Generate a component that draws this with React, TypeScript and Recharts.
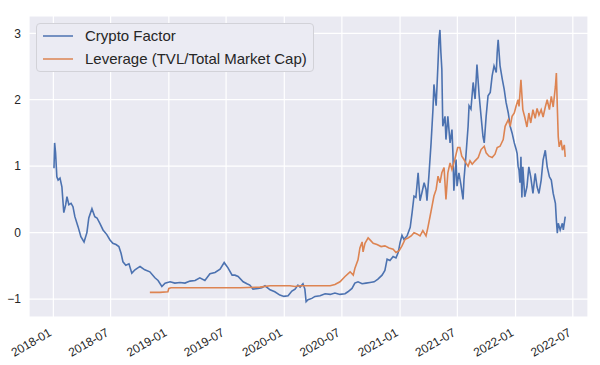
import React from 'react';
import { LineChart, Line, XAxis, YAxis, CartesianGrid } from 'recharts';

const cryptoDates = [
  '2018-01-03','2018-01-05','2018-01-08','2018-01-12','2018-01-16','2018-01-22','2018-01-28','2018-01-31',
  '2018-02-03','2018-02-09','2018-02-13','2018-02-19','2018-02-26','2018-03-04','2018-03-10','2018-03-20',
  '2018-03-29','2018-04-08','2018-04-17','2018-04-23','2018-05-03','2018-05-12','2018-05-19','2018-05-28',
  '2018-06-07','2018-06-19','2018-06-29','2018-07-08','2018-07-18','2018-07-27','2018-08-03','2018-08-09',
  '2018-08-18','2018-08-28','2018-09-06','2018-09-16','2018-09-25','2018-10-02','2018-10-17','2018-11-02',
  '2018-11-18','2018-11-28','2018-12-10','2018-12-20','2019-01-05','2019-01-20','2019-02-05','2019-02-21',
  '2019-03-09','2019-03-25','2019-04-09','2019-04-25','2019-05-11','2019-05-27','2019-06-12','2019-06-25',
  '2019-07-01','2019-07-07','2019-07-20','2019-07-29','2019-08-08','2019-08-24','2019-09-05','2019-09-14',
  '2019-09-24','2019-10-10','2019-10-22','2019-11-01','2019-11-17','2019-12-02','2019-12-18','2019-12-31',
  '2020-01-13','2020-01-25','2020-02-04','2020-02-13','2020-02-20','2020-02-29','2020-03-06','2020-03-10',
  '2020-03-16','2020-03-28','2020-04-07','2020-04-23','2020-05-09','2020-05-25','2020-06-09','2020-06-25',
  '2020-07-11','2020-07-20','2020-08-02','2020-08-11','2020-08-21','2020-09-03','2020-09-15','2020-09-28',
  '2020-10-11','2020-10-23','2020-11-05','2020-11-14','2020-11-21','2020-11-30','2020-12-10','2020-12-19',
  '2020-12-26','2021-01-01','2021-01-07','2021-01-13','2021-01-23','2021-02-02','2021-02-08','2021-02-14',
  '2021-02-20','2021-02-27','2021-03-05','2021-03-11','2021-03-18','2021-03-24','2021-03-27','2021-04-02',
  '2021-04-09','2021-04-15','2021-04-18','2021-04-25','2021-05-01','2021-05-04','2021-05-07','2021-05-10',
  '2021-05-13','2021-05-16','2021-05-23','2021-05-26','2021-06-01','2021-06-08','2021-06-14','2021-06-17',
  '2021-06-20','2021-06-27','2021-06-30','2021-07-06','2021-07-12','2021-07-19','2021-07-22','2021-07-28',
  '2021-08-04','2021-08-07','2021-08-13','2021-08-20','2021-08-26','2021-08-29','2021-09-01','2021-09-08',
  '2021-09-14','2021-09-20','2021-09-24','2021-09-30','2021-10-06','2021-10-13','2021-10-19','2021-10-25',
  '2021-11-01','2021-11-04','2021-11-07','2021-11-13','2021-11-20','2021-11-26','2021-12-02','2021-12-09',
  '2021-12-15','2021-12-21','2021-12-28','2022-01-03','2022-01-06','2022-01-09','2022-01-12','2022-01-15',
  '2022-01-18','2022-01-21','2022-01-24','2022-01-30','2022-02-06','2022-02-12','2022-02-18','2022-02-25',
  '2022-03-04','2022-03-10','2022-03-16','2022-03-23','2022-03-29','2022-04-05','2022-04-11','2022-04-18',
  '2022-04-24','2022-04-30','2022-05-07','2022-05-10','2022-05-13','2022-05-16','2022-05-22','2022-05-29',
  '2022-06-01','2022-06-07',
];
const cryptoValues = [
  0.97, 1.35, 1.2, 0.84, 0.79, 0.82, 0.69, 0.49,
  0.3, 0.42, 0.54, 0.42, 0.44, 0.39, 0.24, 0.09,
  -0.06, -0.14, 0.0, 0.22, 0.36, 0.24, 0.22, 0.14,
  0.04, -0.03, -0.11, -0.16, -0.18, -0.21, -0.31, -0.44,
  -0.49, -0.47, -0.61, -0.56, -0.53, -0.51, -0.56, -0.59,
  -0.68, -0.72, -0.81, -0.76, -0.74, -0.76, -0.75, -0.76,
  -0.73, -0.72, -0.68, -0.72, -0.62, -0.6, -0.55, -0.45,
  -0.49, -0.53, -0.64, -0.64, -0.66, -0.74, -0.77, -0.79,
  -0.85, -0.84, -0.83, -0.8, -0.86, -0.89, -0.94, -0.96,
  -0.95, -0.88, -0.85, -0.79, -0.82, -0.77, -0.85, -1.04,
  -1.01, -0.99, -0.96, -0.95, -0.92, -0.93, -0.91, -0.93,
  -0.92, -0.89, -0.84, -0.76, -0.74, -0.77, -0.76, -0.75,
  -0.74, -0.7, -0.64, -0.57, -0.4, -0.42, -0.36, -0.38,
  -0.3, -0.15, -0.04, -0.1, -0.05, 0.08, 0.3, 0.55,
  0.53, 0.9, 0.48, 0.6, 0.75, 0.65, 0.48, 0.85,
  1.35, 1.86, 2.23, 1.91, 2.56, 2.91, 3.05, 2.71,
  2.46, 1.6, 1.75, 1.4, 1.75, 1.35, 1.55, 1.2,
  0.63, 1.1, 0.7, 0.9, 0.73, 0.5, 0.8, 1.15,
  1.6, 1.91, 1.86, 2.26, 2.01, 2.26, 2.53, 2.06,
  1.75, 1.45, 1.35, 1.75, 2.06, 2.11, 2.36, 2.51,
  2.41, 2.71, 2.9, 2.51, 2.31, 2.16, 1.96, 1.8,
  1.6, 1.5, 1.35, 1.25, 1.19, 1.0, 0.94, 0.75,
  1.14, 0.53, 0.99, 0.54, 0.69, 0.99, 0.84, 0.59,
  0.89, 0.69, 0.59, 0.79, 1.09, 1.24, 0.99, 0.84,
  0.79, 0.59, 0.44, 0.19, -0.01, 0.14, 0.04, 0.14,
  0.04, 0.24,
];

const leverageDates = [
  '2018-11-02','2018-12-04','2018-12-29','2019-01-01','2019-01-08','2019-01-20','2019-02-21','2019-04-09',
  '2019-06-12','2019-08-14','2019-10-16','2019-11-17','2019-12-18','2020-01-19','2020-02-04','2020-02-20',
  '2020-03-22','2020-04-23','2020-05-25','2020-06-09','2020-06-25','2020-07-11','2020-07-27','2020-08-06',
  '2020-08-11','2020-08-21','2020-08-27','2020-09-03','2020-09-06','2020-09-12','2020-09-22','2020-09-28',
  '2020-10-08','2020-10-20','2020-11-02','2020-11-14','2020-11-27','2020-12-10','2020-12-19','2020-12-29',
  '2021-01-07','2021-01-17','2021-01-26','2021-02-05','2021-02-14','2021-02-23','2021-03-05','2021-03-14',
  '2021-03-24','2021-03-30','2021-04-06','2021-04-12','2021-04-18','2021-04-25','2021-05-01','2021-05-07',
  '2021-05-13','2021-05-20','2021-05-26','2021-06-01','2021-06-08','2021-06-14','2021-06-23','2021-07-02',
  '2021-07-09','2021-07-15','2021-07-22','2021-07-28','2021-08-04','2021-08-10','2021-08-17','2021-08-26',
  '2021-09-05','2021-09-14','2021-09-24','2021-09-30','2021-10-09','2021-10-19','2021-10-28','2021-11-04',
  '2021-11-13','2021-11-23','2021-11-29','2021-12-09','2021-12-15','2021-12-21','2021-12-28','2022-01-03',
  '2022-01-09','2022-01-12','2022-01-18','2022-01-24','2022-01-30','2022-02-06','2022-02-12','2022-02-18',
  '2022-02-25','2022-03-04','2022-03-10','2022-03-16','2022-03-23','2022-03-29','2022-04-05','2022-04-11',
  '2022-04-18','2022-04-24','2022-04-30','2022-05-07','2022-05-10','2022-05-13','2022-05-16','2022-05-19',
  '2022-05-25','2022-05-29','2022-06-04','2022-06-07',
];
const leverageValues = [
  -0.9, -0.9, -0.89, -0.84, -0.83, -0.83, -0.83, -0.83,
  -0.83, -0.83, -0.82, -0.8, -0.8, -0.8, -0.81, -0.8,
  -0.8, -0.8, -0.8, -0.78, -0.74, -0.66, -0.59, -0.64,
  -0.54, -0.41, -0.23, -0.14, -0.29, -0.16, -0.08, -0.11,
  -0.16, -0.18, -0.21, -0.2, -0.23, -0.25, -0.3, -0.27,
  -0.2, -0.1, -0.08, -0.05, 0.0, -0.02, -0.05, 0.03,
  -0.05, 0.08, 0.25, 0.4, 0.55, 0.65, 0.85, 0.75,
  0.9, 0.98, 0.5, 0.9, 1.05, 0.95, 1.1, 1.28,
  1.28, 1.15, 1.1, 1.05, 1.0, 1.08, 1.03, 1.08,
  1.13, 1.25, 1.3, 1.2, 1.15, 1.13, 1.18, 1.28,
  1.3, 1.4, 1.6, 1.7, 1.6, 1.75, 1.8, 1.91,
  2.0, 1.9, 2.3, 1.85, 1.74, 1.59, 1.8, 1.65,
  1.85, 1.72, 1.87, 1.77, 1.85, 1.74, 1.89, 2.0,
  1.85, 2.05, 1.89, 2.2, 2.4, 1.89, 1.44, 1.29,
  1.39, 1.24, 1.32, 1.14,
];

const xTickLabels = [
  '2018-01','2018-07','2019-01','2019-07','2020-01','2020-07','2021-01','2021-07','2022-01','2022-07',
];
const yTicks = [-1, 0, 1, 2, 3];
const xDomainDates = ['2017-10-16', '2022-08-18'];
const yDomain = [-1.27, 3.26];

const seriesNames = ['Crypto Factor', 'Leverage (TVL/Total Market Cap)'];
const seriesColors = ['#4C72B0', '#DD8452'];

const toTime = (s: string) => Date.parse(s + 'T00:00:00Z');
const cryptoData = cryptoDates.map((d, i) => ({ t: toTime(d), v: cryptoValues[i] }));
const leverageData = leverageDates.map((d, i) => ({ t: toTime(d), v: leverageValues[i] }));
const xTicks = xTickLabels.map((l) => toTime(l + '-01'));

const FONT = '"Liberation Sans", Arial, sans-serif';
const TEXT = '#262626';

const fmtMonth = (t: number) => {
  const d = new Date(t);
  const m = d.getUTCMonth() + 1;
  return `${d.getUTCFullYear()}-${m < 10 ? '0' + m : m}`;
};

const XTick = (props: any) => {
  const { x, y, payload } = props;
  return (
    <g transform={`translate(${x - 1},${y + 18}) rotate(-30)`}>
      <text x={0} y={0} textAnchor="end" fontFamily={FONT} fontSize={12} fill={TEXT}>
        {fmtMonth(payload.value)}
      </text>
    </g>
  );
};

export default function App() {
  return (
    <div style={{ position: 'absolute', left: 0, top: 0, width: 600, height: 365, background: '#fff' }}>
      <LineChart width={600} height={365} margin={{ top: 16, right: 12, bottom: 0, left: 0 }}>
        <CartesianGrid fill="#EAEAF2" stroke="#FFFFFF" strokeWidth={1.2} />
        <XAxis
          dataKey="t"
          type="number"
          domain={[toTime(xDomainDates[0]), toTime(xDomainDates[1])]}
          ticks={xTicks}
          allowDataOverflow
          axisLine={false}
          tickLine={false}
          tickSize={0}
          tickMargin={0}
          height={48}
          interval={0}
          tick={<XTick />}
        />
        <YAxis
          type="number"
          domain={yDomain}
          ticks={yTicks}
          allowDataOverflow
          axisLine={false}
          tickLine={false}
          tickSize={0}
          tickMargin={8}
          width={29}
          interval={0}
          tickFormatter={(v: number) => (v < 0 ? '\u2212' + Math.abs(v) : String(v))}
          tick={{ fontFamily: FONT, fontSize: 12, fill: TEXT }}
        />
        <Line
          data={cryptoData}
          dataKey="v"
          name={seriesNames[0]}
          type="linear"
          stroke={seriesColors[0]}
          strokeWidth={1.6}
          dot={false}
          isAnimationActive={false}
        />
        <Line
          data={leverageData}
          dataKey="v"
          name={seriesNames[1]}
          type="linear"
          stroke={seriesColors[1]}
          strokeWidth={1.6}
          dot={false}
          isAnimationActive={false}
        />
      </LineChart>
      <div
        style={{
          position: 'absolute',
          left: 36,
          top: 23,
          width: 278,
          height: 49,
          boxSizing: 'border-box',
          border: '1px solid #D2D2D8',
          borderRadius: 4,
          background: '#EBEBF3',
          fontFamily: FONT,
          fontSize: 15,
          color: TEXT,
        }}
      >
        {seriesNames.map((name, i) => (
          <div
            key={name}
            style={{ position: 'absolute', left: 0, top: 2 + i * 23, height: 20, width: '100%' }}
          >
            <svg width={40} height={20} style={{ position: 'absolute', left: 0, top: 0 }}>
              <line x1={6} x2={36} y1={10} y2={10} stroke={seriesColors[i]} strokeWidth={1.5} />
            </svg>
            <span style={{ position: 'absolute', left: 48, top: 0, lineHeight: '20px', whiteSpace: 'nowrap' }}>
              {name}
            </span>
          </div>
        ))}
      </div>
    </div>
  );
}
